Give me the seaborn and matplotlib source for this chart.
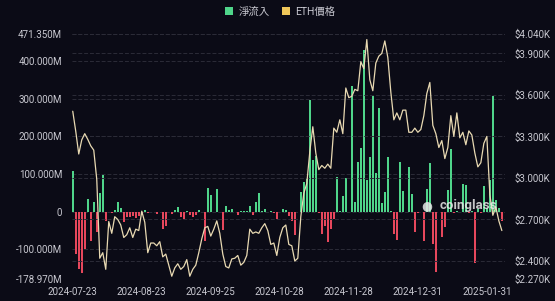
import numpy as np
import pandas as pd
import matplotlib
matplotlib.use("Agg")
import matplotlib.pyplot as plt
import seaborn as sns
from matplotlib.patches import Patch

# ---------------- data ----------------
dates = pd.bdate_range("2024-07-23", "2025-02-07")  # trading-day categories (144)

net_flow_musd = [
    106.6, -113.3, -152.3, -162.7, -98.3, 33.7, -77.2, 26.7, -54.3, 48.8,
    98.4, -23.7, -2.0, -5.0, 4.9, 24.3, 10.8, -27.0, -14.0, -13.5,
    -12.0, -18.0, -12.0, -10.0, 3.0, -3.5, -0.5, -1.8, -5.2, 0.0,
    -47.4, -37.5, -0.2, -5.2, 3.0, 11.4, -15.0, -20.1, 1.1, -9.4,
    -15.1, -9.7, 5.2, -0.9, -79.3, 62.5, 43.2, 0.1, 58.7, -0.1,
    -48.5, 14.4, 5.0, 7.4, 0.0, -8.0, 0.5, 2.0, 1.0, 16.0,
    -8.0, 24.2, 48.4, 2.0, 8.0, -2.0, 1.0, -3.0, -20.0, 0.0,
    7.6, 4.4, -10.9, -25.0, -63.2, 0.0, 52.3, 79.7, 85.9, 295.5,
    135.9, 146.9, -3.2, -59.8, -39.1, -81.3, -45.0, -20.0, 91.2, 2.8,
    40.1, 90.1, 0.0, 332.9, 24.2, 132.6, 167.6, 428.5, 83.8, 145.6,
    305.7, 102.1, 273.7, 23.5, 51.4, 145.7, 2.5, -60.5, -75.1, 130.8,
    53.6, 0.0, 117.2, 47.8, -55.4, -4.0, 0.0, -77.5, 58.9, 128.7,
    -86.8, -159.4, 0.0, -68.5, -41.0, 58.0, 166.6, -3.0, 2.0, 0.0,
    74.0, 70.0, -5.0, 2.0, -136.2, 8.0, -5.0, 67.7, 10.0, 83.5,
    307.8, 30.0, 10.0, -24.0,
]

eth_price = [
    3482, 3337, 3173, 3275, 3320, 3279, 3232, 3201, 2990, 2420,
    2460, 2340, 2685, 2600, 2720, 2700, 2660, 2570, 2590, 2640,
    2570, 2630, 2620, 2760, 2680, 2460, 2530, 2530, 2510, 2540,
    2430, 2450, 2370, 2290, 2350, 2380, 2340, 2360, 2410, 2290,
    2340, 2370, 2460, 2560, 2640, 2650, 2580, 2630, 2690, 2600,
    2450, 2360, 2350, 2415, 2420, 2440, 2370, 2390, 2440, 2630,
    2600, 2610, 2600, 2640, 2670, 2620, 2520, 2530, 2440, 2570,
    2640, 2660, 2520, 2510, 2400, 2420, 2720, 2890, 2960, 3190,
    3370, 3180, 3060, 3090, 3070, 3100, 3070, 3360, 3330, 3420,
    3320, 3650, 3580, 3590, 3640, 3630, 3840, 3790, 4000, 3710,
    3630, 3830, 3880, 3900, 3990, 3870, 3620, 3420, 3470, 3420,
    3490, 3490, 3330, 3330, 3360, 3330, 3350, 3450, 3610, 3690,
    3380, 3320, 3220, 3270, 3140, 3220, 3450, 3300, 3470, 3290,
    3330, 3240, 3340, 3310, 3180, 3080, 3110, 3250, 3300, 2880,
    2730, 2790, 2690, 2620,
]

date_tick_labels = ["2024-07-23", "2024-08-23", "2024-09-25", "2024-10-28",
                    "2024-11-28", "2024-12-31", "2025-01-31"]
flow_ticks = [-178.97, -100, 0, 100, 200, 300, 400, 471.35]
flow_tick_labels = ["-178.970M", "-100.000M", "0", "100.000M", "200.000M",
                    "300.000M", "400.000M", "471.350M"]
price_ticks = [2270, 2400, 2700, 3000, 3300, 3600, 3900, 4040]
price_tick_labels = ["$2.270K", "$2.400K", "$2.700K", "$3.000K", "$3.300K",
                     "$3.600K", "$3.900K", "$4.040K"]
legend_labels = ["淨流入", "ETH價格"]

# ---------------- style ----------------
BG = "#0b0b16"
GREEN = "#4fd58a"
RED = "#e6475c"
LINE = "#e8d9b2"
GOLD = "#f0c75a"
TXT = "#c8c8d0"
GRID = "#2c2c38"

sns.set_theme(style="dark")
plt.rcParams["font.family"] = ["Roboto", "Noto Sans CJK TC", "DejaVu Sans"]

df = pd.DataFrame({
    "idx": np.arange(len(dates)),
    "date": dates,
    "flow": net_flow_musd,
    "price": eth_price,
})
df["sign"] = np.where(df["flow"] >= 0, "pos", "neg")

W, H = 555, 301
fig = plt.figure(figsize=(W / 100, H / 100), dpi=100, facecolor=BG)
left, right, top, bottom = 72, 505, 34, 279
ax = fig.add_axes([left / W, 1 - bottom / H, (right - left) / W, (bottom - top) / H])
ax.set_facecolor(BG)

sns.barplot(data=df, x="idx", y="flow", hue="sign",
            palette={"pos": GREEN, "neg": RED}, native_scale=True,
            width=0.62, dodge=False, errorbar=None, saturation=1,
            legend=False, linewidth=0, ax=ax, zorder=3)

ax.set_xlim(-0.25, 144.05)
ax.set_ylim(flow_ticks[0], flow_ticks[-1])
ax.set_yticks(flow_ticks)
ax.set_yticklabels(flow_tick_labels)
tick_pos = [df["idx"][df["date"] == pd.Timestamp(d)].iloc[0] for d in date_tick_labels]
ax.set_xticks(tick_pos)
ax.set_xticklabels(date_tick_labels)
ax.set_xlabel("")
ax.set_ylabel("")
ax.tick_params(axis="both", length=0, colors=TXT, labelsize=7)
ax.tick_params(axis="x", pad=6)
ax.tick_params(axis="y", pad=7)
for s in ax.spines.values():
    s.set_visible(False)
ax.grid(False)
for t in flow_ticks:
    ax.axhline(t, color=GRID, lw=0.7, ls=(0, (4, 2)), zorder=1)

ax2 = ax.twinx()
sns.lineplot(data=df, x="idx", y="price", color=LINE, linewidth=0.9, ax=ax2, zorder=5)
ax2.set_ylim(price_ticks[0], price_ticks[-1])
ax2.set_yticks(price_ticks)
ax2.set_yticklabels(price_tick_labels)
ax2.set_xlim(-0.25, 144.05)
ax2.set_ylabel("")
ax2.tick_params(axis="y", length=0, colors=TXT, labelsize=7, pad=7)
for s in ax2.spines.values():
    s.set_visible(False)
ax2.grid(False)
for t in price_ticks:
    ax2.axhline(t, color=GRID, lw=0.7, ls=(0, (4, 2)), zorder=1)

# legend
handles = [Patch(facecolor=GREEN, edgecolor="none"), Patch(facecolor=GOLD, edgecolor="none")]
fig.legend(handles, legend_labels, loc="upper center", bbox_to_anchor=(0.505, 1.01),
           ncol=2, frameon=False, fontsize=7.5, labelcolor=TXT,
           handlelength=0.8, handleheight=0.8, handletextpad=0.5, columnspacing=1.2)

# watermark
fig.text(427 / W, 1 - 206 / H, "●", color="#e8e8e8", alpha=0.85, fontsize=9,
         ha="center", va="center", family="DejaVu Sans")
fig.text(468 / W, 1 - 205 / H, "coinglass", color="#e8e8e8", alpha=0.85,
         fontsize=9.5, ha="center", va="center", fontweight="bold")

fig.savefig("out.png", dpi=100, facecolor=BG)
